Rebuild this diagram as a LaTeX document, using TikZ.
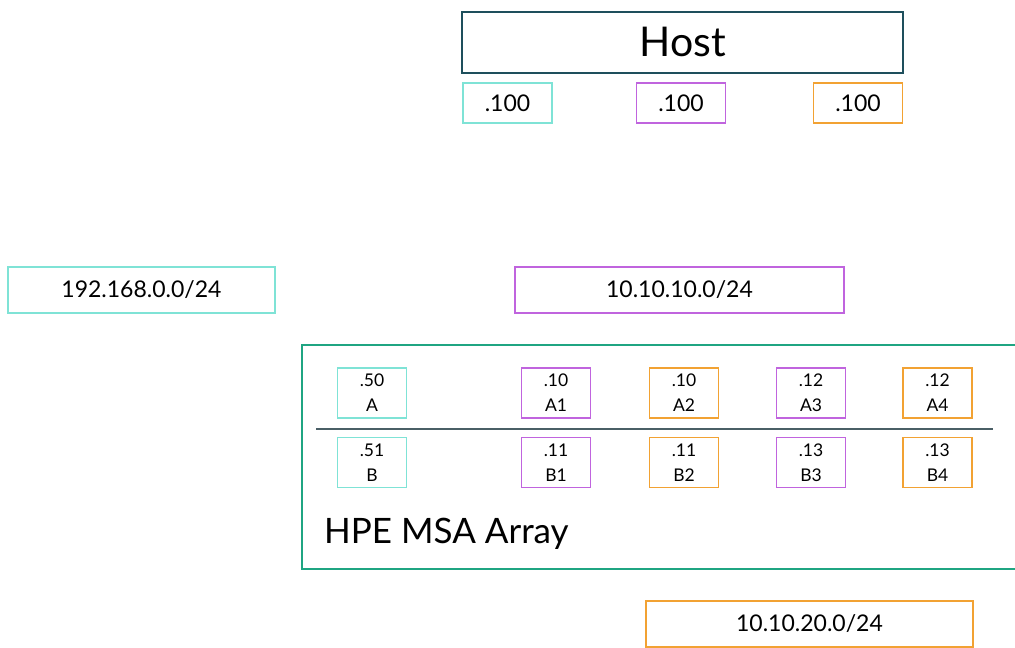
\documentclass[tikz,border=0pt]{standalone}
\usepackage{fontspec}
\setmainfont{Lato}
\definecolor{hostc}{HTML}{1E4F5C}
\definecolor{netc}{HTML}{7FE3D6}
\definecolor{purc}{HTML}{C064DE}
\definecolor{orac}{HTML}{F2A233}
\definecolor{arrc}{HTML}{1FA582}
\definecolor{linec}{HTML}{4A5F66}
\tikzset{
  netbox/.style={draw=#1, line width=2pt, inner sep=0pt, font=\fontsize{23}{28}\selectfont},
  ipbox/.style={draw=#1, line width=1.2pt, inner sep=0pt, minimum width=89pt, minimum height=40pt, font=\fontsize{23}{28}\selectfont},
  portbox/.style={draw=#1, line width=1.2pt, inner sep=0pt, minimum width=69pt, minimum height=50pt, align=center, font=\fontsize{17.5}{25}\selectfont}
}
\begin{document}
\begin{tikzpicture}[x=1pt, y=-1pt]
            \useasboundingbox (0,0) rectangle (1015,648);
            \clip (0,0) rectangle (1015,648);

            % Host
            \node[draw=hostc, line width=2pt, minimum width=441pt, minimum height=61pt, inner sep=0pt, font=\fontsize{41}{48}\selectfont] (host) at (682.5,42) {Host};
            \node[ipbox=netc] (h1) at (507.5,103) {.100};
            \node[ipbox=purc] (h2) at (681,103) {.100};
            \node[ipbox=orac] (h3) at (858,103) {.100};

            % Reti
            \node[netbox=netc, minimum width=267pt, minimum height=46pt] (net1) at (141.5,290) {192.168.0.0/24};
            \node[netbox=purc, minimum width=329pt, minimum height=46pt] (net2) at (679.5,290) {10.10.10.0/24};
            \node[netbox=orac, minimum width=327pt, minimum height=46pt] (net3) at (809.5,624) {10.10.20.0/24};

            % Array
            \draw[arrc, line width=2pt] (302,345) rectangle (1020,569);
            \node[anchor=west, inner sep=0pt, font=\fontsize{35}{40}\selectfont] (msa) at (324,534) {HPE MSA Array};
            \node[portbox=netc] (pa) at (372,393) {.50\\A};
            \node[portbox=purc] (pa1) at (556,393) {.10\\A1};
            \node[portbox=orac] (pa2) at (684,393) {.10\\A2};
            \node[portbox=purc] (pa3) at (811,393) {.12\\A3};
            \node[portbox=orac] (pa4) at (937.5,393) {.12\\A4};
            \coordinate (dl) at (316,429);
            \coordinate (dr) at (993,429);
            \draw[linec, line width=1.2pt] (dl) -- (dr);
            \node[portbox=netc] (pb) at (372,462.5) {.51\\B};
            \node[portbox=purc] (pb1) at (556,462.5) {.11\\B1};
            \node[portbox=orac] (pb2) at (684,462.5) {.11\\B2};
            \node[portbox=purc] (pb3) at (811,462.5) {.13\\B3};
            \node[portbox=orac] (pb4) at (937.5,462.5) {.13\\B4};
        \end{tikzpicture}
\end{document}
